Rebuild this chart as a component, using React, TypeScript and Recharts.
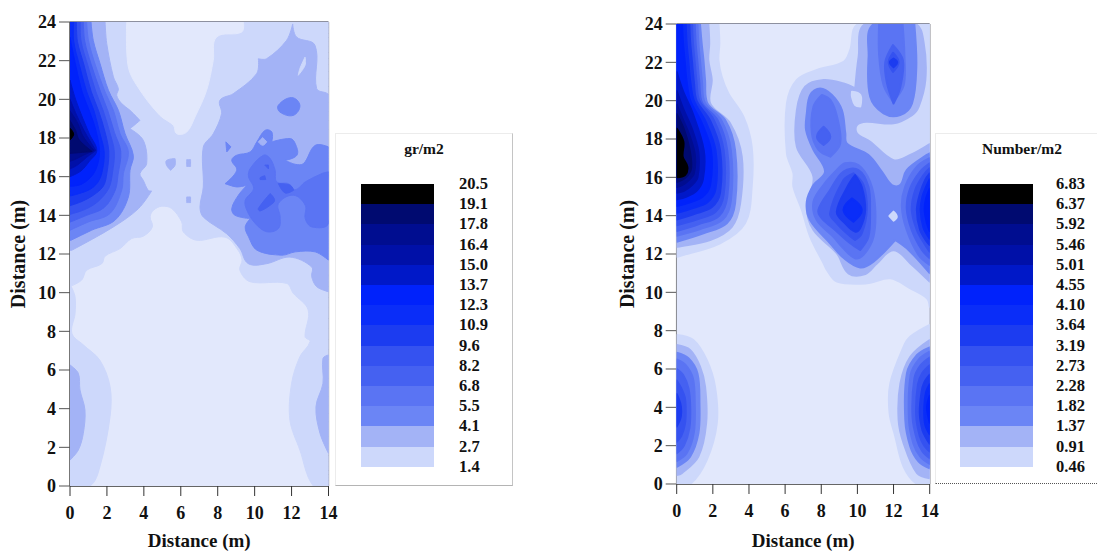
import { ScatterChart, Scatter, XAxis, YAxis, ReferenceLine } from "recharts";

type Pt = [number, number];
type Contour = [number, Pt[]]; // band index (into bandColors, -1 = below lowest level), outline in metres

const xTicks = [0, 2, 4, 6, 8, 10, 12, 14];
const yTicks = [0, 2, 4, 6, 8, 10, 12, 14, 16, 18, 20, 22, 24];

const biomassLevels = ["20.5", "19.1", "17.8", "16.4", "15.0", "13.7", "12.3", "10.9", "9.6", "8.2", "6.8", "5.5", "4.1", "2.7", "1.4"];
const densityLevels = ["6.83", "6.37", "5.92", "5.46", "5.01", "4.55", "4.10", "3.64", "3.19", "2.73", "2.28", "1.82", "1.37", "0.91", "0.46"];

// lowest band first
const bandColors = [
  "#cdd8fb", "#a3b3f6", "#6b85f5", "#5a74f3", "#4561f1", "#3552f0", "#1c3cf0",
  "#0a2df8", "#0022fb", "#0018c8", "#0010a8", "#000d90", "#000a70", "#000000",
];
const baseColor = "#e2e8fc";

const biomassContours: Contour[] = [
  [-1, [[0, 0], [14, 0], [14, 24], [0, 24]]],
  [0, [[0, 24], [14, 24], [14, 0], [13.18, 0], [12.45, 1.86], [11.91, 3.41], [12, 5.31], [12.45, 6.69], [13, 7.47], [12.73, 7.72], [12.9, 9.1], [12.09, 9.97], [11.73, 10.48], [9.75, 10.57], [9.2, 11.17], [9.32, 11.68], [9.1, 12.2], [8.4, 12.87], [6.87, 12.71], [6.14, 13.14], [6.05, 13.66], [5.51, 14.35], [4.97, 14.47], [4.52, 14.26], [4.34, 13.92], [4.46, 13.4], [3.97, 12.92], [3.34, 12.8], [2.71, 12.28], [1.9, 11.89], [1.72, 11.5], [0.9, 11.16], [0.63, 10.65], [0.05, 10.34], [0.27, 9.8], [0.27, 8.9], [0.1, 7.9], [0.72, 7.3], [1.62, 6.5], [2.17, 5.14], [2.17, 3.6], [1.62, 1], [1.08, 0], [0, 0]]],
  [-1, [[3.07, 24], [3.16, 21.67], [3.79, 20.47], [4.87, 19.17], [5.6, 18.66], [5.78, 18.22], [6.32, 18.31], [6.77, 19.09], [7.4, 20.47], [7.76, 22.02], [7.94, 23.22], [9.3, 23.48], [9.39, 24]]],
  [1, [[1.9, 24], [1.99, 22.88], [2.35, 21.16], [2.62, 20.55], [2.53, 20.2], [2.8, 19.78], [3.25, 19.43], [3.79, 18.91], [3.25, 18.48], [3.97, 17.88], [4.15, 16.67], [3.79, 16.16], [3.97, 15.81], [4.24, 15.29], [4.42, 15.26], [3.7, 14.34], [2.35, 13.4], [0.09, 12.19], [0, 12.19], [0, 24]]],
  [1, [[0, 6.26], [0.45, 5.83], [0.54, 4.97], [0.81, 3.93], [0.72, 2.72], [0.45, 1.86], [0, 1.34]]],
  [1, [[14, 6.78], [13.7, 6.6], [13.7, 5.31], [13.32, 4.1], [13.54, 2.72], [14, 1.69]]],
  [1, [[12.06, 23.9], [12.27, 23.22], [13.27, 22.79], [13.36, 20.55], [14, 20.2], [14, 10.05], [13.36, 10.31], [13.09, 10.83], [13.09, 11.33], [11.91, 11.84], [10.65, 11.5], [9.66, 11.5], [9.2, 12.28], [8.48, 13.05], [7.22, 13.91], [7.04, 14.43], [7.22, 15.47], [7.22, 17.53], [7.76, 18.22], [8.21, 19.26], [8.12, 19.95], [8.84, 20.29], [10.11, 21.33], [10.2, 22.1], [10.65, 22.1], [11.73, 23.05]]],
  [0, [[12.73, 22.19], [12.73, 21.76], [12.36, 21.24], [12.45, 21.59]]],
  [1, [[5.23, 16.84], [5.69, 16.93], [5.69, 16.59], [5.45, 16.33], [5.23, 16.59]]],
  [1, [[6.32, 16.88], [6.53, 16.88], [6.53, 16.53], [6.32, 16.53]]],
  [1, [[6.32, 14.95], [6.53, 14.95], [6.53, 14.66], [6.32, 14.66]]],
  // left blob
  [2, [[1.14, 24], [1.26, 23.05], [1.63, 21.84], [2.08, 20.47], [2.62, 19.43], [2.98, 18.23], [3.43, 17.1], [3.25, 16.33], [3.16, 14.95], [2.44, 13.75], [1.17, 13.23], [0.05, 12.71], [0, 12.71], [0, 24]]],
  [3, [[0.9, 24], [1, 23.05], [1.35, 21.84], [1.9, 20.38], [2.35, 19.43], [2.71, 18.23], [3.16, 17.28], [2.89, 16.16], [2.8, 15.3], [2.17, 14.1], [1, 13.66], [0, 13.23], [0, 24]]],
  [4, [[0.72, 24], [0.8, 23], [1.15, 21.8], [1.65, 20.4], [2.05, 19.4], [2.4, 18.3], [2.75, 17.3], [2.6, 16.1], [2.45, 15.3], [1.85, 14.4], [0.9, 14], [0, 13.65], [0, 24]]],
  [5, [[0.55, 24], [0.6, 23], [0.95, 21.8], [1.4, 20.4], [1.8, 19.4], [2.15, 18.3], [2.4, 17.3], [2.3, 16.2], [2.1, 15.4], [1.5, 14.7], [0.8, 14.3], [0, 14.05], [0, 24]]],
  [6, [[0.35, 24], [0.4, 23], [0.75, 21.8], [1.15, 20.4], [1.55, 19.4], [1.9, 18.3], [2.1, 17.3], [2, 16.2], [1.8, 15.5], [1.2, 15], [0.6, 14.7], [0, 14.5], [0, 24]]],
  [7, [[0.2, 24], [0.2, 23], [0.5, 21.8], [0.9, 20.4], [1.3, 19.4], [1.6, 18.3], [1.85, 17.3], [1.75, 16.3], [1.5, 15.7], [1, 15.3], [0, 15], [0, 24]]],
  [8, [[0, 23.2], [0.3, 21.8], [0.65, 20.4], [1.05, 19.4], [1.4, 18.4], [1.6, 17.3], [1.45, 16.5], [1.15, 16], [0.6, 15.6], [0, 15.5]]],
  [9, [[0, 21], [0.3, 20], [0.7, 19], [1.05, 18.2], [1.45, 17.35], [1.05, 16.8], [0.6, 16.3], [0, 16]]],
  [10, [[0, 20], [0.35, 19.2], [0.75, 18.4], [1.4, 17.35], [0.9, 17], [0.4, 16.6], [0, 16.4]]],
  [11, [[0, 19.4], [0.4, 18.8], [0.7, 18.1], [1.3, 17.35], [0.7, 17.1], [0.3, 16.9], [0, 16.8]]],
  [12, [[0, 18.9], [0.3, 18.4], [0.5, 17.9], [1.2, 17.3], [0.6, 17.25], [0, 17.2]]],
  [13, [[0, 18.5], [0.2, 18.2], [0, 17.9]]],
  // right patches
  [2, [[10.57, 18.4], [10.93, 18.31], [10.93, 17.8], [11.93, 17.97], [12.2, 17.71], [12.29, 17.11], [11.65, 16.85], [12.2, 16.64], [12.65, 16.68], [13.28, 17.62], [14, 17.54], [14, 11.68], [13.28, 12.11], [12.2, 12.11], [11.47, 11.94], [10.12, 12.2], [9.67, 12.89], [9.49, 13.4], [9.76, 13.83], [8.94, 14], [8.76, 14.35], [9.12, 15.04], [9.58, 15.56], [9.03, 15.47], [8.4, 15.64], [9.03, 16.33], [8.76, 16.85], [9.03, 17.11], [9.76, 17.28], [10.12, 17.8]]],
  [1, [[10.2, 17.8], [10.44, 18.02], [10.66, 17.8], [10.44, 17.62]]],
  [2, [[8.44, 17.8], [8.72, 17.54], [8.49, 17.28]]],
  [2, [[11.28, 19.69], [12, 20.09], [12.45, 19.69], [12.09, 19.17], [11.37, 19.34]]],
  [3, [[10.48, 17.11], [10.84, 16.94], [11.11, 16.33], [11.2, 15.73], [11.83, 15.64], [12.2, 15.33], [12.74, 15.73], [13.64, 16.16], [14, 16.25], [14, 13.58], [13.1, 13.4], [12.74, 13.83], [12.74, 14.52], [12.1, 15.04], [11.29, 14.61], [11.38, 13.92], [11.29, 13.32], [10.66, 13.15], [10.03, 13.58], [9.58, 14.26], [9.49, 14.78], [9.94, 15.38], [9.67, 15.99], [9.76, 16.42]]],
  [4, [[11.29, 15.64], [11.93, 15.56], [12.11, 15.3], [11.65, 15.16]]],
  [4, [[10.2, 14.35], [10.84, 15.13], [11.08, 14.78], [10.84, 14.52], [10.3, 14.23]]],
  [4, [[10.3, 15.95], [10.55, 16.05], [10.6, 15.85], [10.3, 15.85]]],
  [4, [[10.55, 16.6], [10.75, 16.6], [10.75, 16.4]]],
];

const densityContours: Contour[] = [
  [-1, [[0, 0], [14, 0], [14, 24], [0, 24]]],
  // top-left blob
  [0, [[2.31, 24], [2.36, 23], [2.31, 22.12], [2.49, 21.25], [2.86, 20.38], [3.69, 19.16], [4.15, 17.6], [4.15, 15.5], [3.78, 13.6], [2.4, 12.56], [0.04, 11.86], [0, 11.86], [0, 24]]],
  [1, [[1.75, 24], [1.8, 23], [1.75, 22.12], [1.94, 21.08], [1.85, 19.86], [2.95, 18.82], [3.6, 17.08], [3.51, 14.64], [3.05, 13.42], [1.85, 12.73], [0.04, 12.38], [0, 12.38], [0, 24]]],
  [2, [[1.29, 24], [1.38, 23], [1.48, 22.12], [1.57, 21.08], [1.7, 19.86], [2.68, 18.99], [3.23, 17.42], [3.23, 14.64], [2.77, 13.6], [1.48, 13.08], [0, 12.64], [0, 24]]],
  [3, [[1.15, 24], [1.2, 23], [1.3, 22], [1.4, 21], [1.55, 19.9], [2.45, 19], [3, 17.4], [3, 14.8], [2.55, 13.8], [1.3, 13.3], [0, 12.95], [0, 24]]],
  [4, [[1, 24], [1.05, 23], [1.15, 22], [1.25, 21], [1.4, 19.9], [2.25, 19], [2.8, 17.4], [2.8, 15], [2.35, 14], [1.2, 13.55], [0, 13.2], [0, 24]]],
  [5, [[0.85, 24], [0.9, 23], [1, 22], [1.1, 21], [1.25, 20], [2.05, 19], [2.6, 17.4], [2.6, 15.1], [2.15, 14.2], [1.1, 13.8], [0, 13.5], [0, 24]]],
  [6, [[0.7, 24], [0.75, 23], [0.85, 22], [0.95, 21], [1.1, 20], [1.85, 18.95], [2.4, 17.4], [2.4, 15.2], [1.95, 14.45], [1, 14.1], [0, 13.8], [0, 24]]],
  [7, [[0.5, 24], [0.55, 23], [0.65, 22], [0.75, 21], [0.95, 20], [1.6, 18.9], [2.15, 17.4], [2.15, 15.4], [1.7, 14.7], [0.9, 14.4], [0, 14.15], [0, 24]]],
  [8, [[0.3, 24], [0.35, 23], [0.45, 22], [0.55, 21], [0.75, 20], [1.35, 18.9], [1.9, 17.4], [1.85, 15.6], [1.45, 15], [0.75, 14.7], [0, 14.5], [0, 24]]],
  [9, [[0, 21.5], [0.35, 20.5], [0.9, 19.3], [1.5, 17.4], [1.45, 15.9], [1.1, 15.3], [0.55, 15], [0, 14.85]]],
  [10, [[0, 20.5], [0.35, 19.6], [0.85, 18.5], [1.2, 17.3], [1.15, 16], [0.85, 15.6], [0.4, 15.3], [0, 15.2]]],
  [11, [[0, 19.8], [0.35, 19], [0.7, 18.2], [1, 17.2], [0.95, 16.2], [0.6, 15.8], [0.3, 15.6], [0, 15.5]]],
  [12, [[0, 19.3], [0.4, 18.5], [0.7, 17.5], [0.8, 16.5], [0.5, 16], [0, 15.75]]],
  [13, [[0, 18.55], [0.37, 17.86], [0.33, 17.08], [0.59, 16.55], [0.46, 16.12], [0, 16]]],
  // middle and right, upper part
  [0, [[10.07, 24], [9.6, 22.64], [9.24, 22.03], [7.76, 21.6], [6.65, 21.08], [6.1, 19.86], [6.1, 17.25], [6.46, 16.21], [6.46, 15.51], [6.93, 14.3], [7.39, 12.9], [8.13, 11.51], [8.31, 11.17], [8.87, 10.56], [10.53, 10.47], [11.82, 10.73], [12.93, 10.21], [13.85, 9.69], [14, 9.25], [14, 24]]],
  [1, [[10.44, 24], [10.07, 22.3], [9.88, 20.64], [9.24, 20.9], [8.13, 21.08], [7.11, 20.73], [6.65, 19.51], [6.65, 17.6], [7.57, 16.03], [7.2, 14.47], [7.57, 13.25], [8.87, 12.03], [9.51, 10.99], [10.44, 10.96], [11.08, 11.51], [12, 12.2], [12.93, 11.51], [14, 10.56], [14, 17.74], [12.93, 17.17], [12, 16.9], [10.71, 17.86], [9.97, 18.3], [9.97, 18.73], [10.5, 18.9], [12, 18.82], [13.02, 19.25], [13.39, 19.69], [13.76, 21.08], [13.67, 22.99], [13.2, 24]]],
  [0, [[9.7, 20.47], [10.16, 20.3], [10.16, 19.69], [9.88, 19.77], [9.7, 20.21]]],
  [2, [[10.9, 24], [10.62, 22.3], [10.71, 20.2], [11.45, 19.34], [12.37, 19.25], [13.02, 19.86], [13.26, 21.77], [13.15, 24]]],
  [3, [[11.2, 24], [11.2, 22.4], [11.45, 20.8], [11.97, 19.95], [12.56, 20.8], [12.6, 22.4], [12.5, 24]]],
  [4, [[11.97, 22.9], [11.54, 22], [11.64, 20.9], [12, 19.85], [12.37, 20.7], [12.52, 22.1]]],
  [5, [[11.97, 22.5], [11.73, 22], [11.97, 21.5], [12.28, 22]]],
  [6, [[12, 22.2], [11.8, 22], [12, 21.75], [12.2, 22]]],
  [2, [[7.16, 18.47], [7.2, 19.34], [7.39, 20.3], [7.94, 20.64], [8.59, 20.3], [9.14, 19.51], [9.33, 18.3], [9.41, 17.77], [10.61, 17.17], [11.35, 16.3], [11.9, 15.6], [12.37, 15.6], [12.73, 16.38], [13.84, 17.17], [14, 17.25], [14, 11], [12.83, 12.21], [12.09, 12.73], [10.89, 11.6], [10.15, 11.3], [9.23, 11.8], [8.49, 12.56], [7.38, 13.77], [7.2, 14.73], [7.57, 15.6], [8.21, 16.3], [7.57, 17.43]]],
  [0, [[11.77, 13.98], [12, 14.21], [12.18, 13.95], [12, 13.74]]],
  [3, [[7.48, 18.3], [7.57, 19.69], [8.03, 20.3], [8.5, 20.04], [8.87, 19.17], [9.05, 17.77], [8.5, 17.08], [7.85, 17.43]]],
  [4, [[7.76, 18.12], [8.13, 18.64], [8.5, 18.12], [8.13, 17.69]]],
  [3, [[7.57, 14.73], [8.12, 15.6], [8.86, 16.38], [9.32, 16.73], [10.06, 16.64], [10.7, 15.77], [10.98, 14.47], [10.89, 12.9], [10.34, 11.95], [9.87, 11.78], [9.14, 12.38], [8.67, 12.9], [7.75, 13.77]]],
  [4, [[7.84, 14.3], [8.49, 15.34], [9.23, 16.3], [10.06, 16.38], [10.61, 15.51], [10.7, 14.3], [10.61, 12.9], [10.15, 12.21], [9.6, 12.56], [8.77, 13.25], [8.03, 13.86]]],
  [5, [[8.49, 14.12], [9.23, 15.86], [9.78, 16.21], [10.34, 15.6], [10.52, 14.3], [10.24, 13.08], [9.87, 12.73], [9.41, 13.08], [8.86, 13.6]]],
  [6, [[8.86, 14.2], [9.5, 15.6], [9.87, 16.12], [10.24, 15.5], [10.43, 14.3], [10.15, 13.34], [9.87, 13.17], [9.32, 13.6]]],
  [7, [[9.69, 14.9], [9.23, 14.3], [9.78, 13.69], [10.24, 14.3]]],
  [3, [[14, 17], [13.29, 16.56], [12.64, 15.51], [12.46, 14.47], [12.73, 13.25], [13.38, 11.95], [14, 11.43]]],
  [4, [[14, 16.73], [13.47, 16.3], [12.92, 15.43], [12.73, 14.38], [13.01, 13.25], [13.57, 12.21], [14, 11.78]]],
  [5, [[14, 16.47], [13.66, 16.12], [13.2, 15.34], [13.01, 14.3], [13.29, 13.25], [13.75, 12.47], [14, 12.12]]],
  [6, [[14, 16.2], [13.75, 15.86], [13.47, 15.17], [13.29, 14.3], [13.47, 13.25], [13.84, 12.64], [14, 12.47]]],
  [7, [[14, 15.9], [13.8, 15.5], [13.6, 15], [13.5, 14.3], [13.65, 13.4], [14, 12.8]]],
  [8, [[14, 15.4], [13.8, 14.9], [13.72, 14.3], [13.85, 13.6], [14, 13.2]]],
  // bottom left
  [0, [[0, 7.77], [0.92, 7.51], [1.66, 6.47], [2.12, 5.08], [2.22, 3.17], [1.66, 1.25], [0.74, 0], [0, 0]]],
  [1, [[0, 7.25], [0.74, 6.99], [1.29, 6.12], [1.57, 5.08], [1.63, 3.17], [1.2, 1.43], [0.28, 0.56], [0, 0.47]]],
  [2, [[0, 6.85], [0.65, 6.56], [1.15, 5.77], [1.26, 4.21], [1.2, 2.64], [0.74, 1.43], [0, 0.9]]],
  [3, [[0, 6.5], [0.5, 6.2], [0.9, 5.5], [1, 4.2], [0.95, 2.7], [0.55, 1.6], [0, 1.2]]],
  [4, [[0, 6], [0.35, 5.7], [0.65, 5], [0.75, 4], [0.7, 2.9], [0.4, 2], [0, 1.6]]],
  [5, [[0, 5.4], [0.25, 5], [0.45, 4.5], [0.5, 3.8], [0.45, 3.1], [0.25, 2.5], [0, 2.2]]],
  [6, [[0, 4.7], [0.2, 4.2], [0.25, 3.8], [0.2, 3.4], [0, 3]]],
  // bottom right
  [0, [[14, 8.3], [12.93, 7.69], [12.56, 7.17], [11.82, 5.25], [11.78, 3.69], [12.1, 2.47], [12.56, 0.9], [13.3, 0], [14, 0]]],
  [1, [[14, 7.51], [12.93, 6.64], [12.38, 5.25], [12.28, 3.34], [12.56, 2.12], [13.3, 0.56], [14, 0.3]]],
  [2, [[14, 7.13], [13.3, 6.73], [12.74, 5.77], [12.65, 3.34], [12.93, 1.95], [13.39, 1.17], [14, 0.82]]],
  [3, [[14, 6.9], [13.4, 6.5], [12.95, 5.7], [12.85, 3.4], [13.1, 2.1], [13.5, 1.4], [14, 1.05]]],
  [4, [[14, 6.6], [13.5, 6.2], [13.15, 5.5], [13.05, 3.5], [13.3, 2.3], [13.6, 1.7], [14, 1.35]]],
  [5, [[14, 6.2], [13.6, 5.8], [13.35, 5.2], [13.25, 3.6], [13.45, 2.5], [13.7, 2], [14, 1.7]]],
  [6, [[14, 5.7], [13.7, 5.3], [13.55, 4.8], [13.45, 3.7], [13.6, 2.8], [13.8, 2.4], [14, 2.1]]],
  [7, [[14, 5.2], [13.8, 4.8], [13.7, 4], [13.75, 3.1], [14, 2.6]]],
  [8, [[14, 4.6], [13.85, 4], [14, 3.2]]],
];

const SERIF = "'Liberation Serif', 'Times New Roman', serif";

// closed curve for the contours: rounds gentle bends, leaves sharp corners (plot edges, notches) alone
function smoothClosed(context: any) {
  let pts: Pt[] = [];
  const tangent = (i: number): Pt => {
    const n = pts.length;
    const [px, py] = pts[(i + n - 1) % n];
    const [x, y] = pts[i];
    const [nx, ny] = pts[(i + 1) % n];
    const a = Math.hypot(x - px, y - py) || 1;
    const b = Math.hypot(nx - x, ny - y) || 1;
    const dot = ((x - px) * (nx - x) + (y - py) * (ny - y)) / (a * b);
    if (dot < 0.15) return [0, 0];
    const len = Math.hypot(nx - px, ny - py) || 1;
    return [(nx - px) / len, (ny - py) / len];
  };
  return {
    areaStart() {},
    areaEnd() {},
    lineStart() {
      pts = [];
    },
    point(x: number, y: number) {
      pts.push([+x, +y]);
    },
    lineEnd() {
      const n = pts.length;
      context.moveTo(pts[0][0], pts[0][1]);
      for (let i = 0; i < n; i++) {
        const j = (i + 1) % n;
        const d = Math.hypot(pts[j][0] - pts[i][0], pts[j][1] - pts[i][1]) / 3;
        const t0 = tangent(i);
        const t1 = tangent(j);
        context.bezierCurveTo(
          pts[i][0] + t0[0] * d, pts[i][1] + t0[1] * d,
          pts[j][0] - t1[0] * d, pts[j][1] - t1[1] * d,
          pts[j][0], pts[j][1]
        );
      }
      context.closePath();
    },
  };
}

function ContourPanel({ contours, left, top, plotWidth, plotHeight, yAxisWidth, rounding, yLabelOffset }: {
  contours: Contour[];
  left: number;
  top: number;
  plotWidth: number;
  plotHeight: number;
  yAxisWidth: number;
  rounding: number;
  yLabelOffset: number;
}) {
  const rightPad = 22;
  const xAxisHeight = 551 - top - plotHeight;
  const tickStyle = { fontFamily: SERIF, fontWeight: 700, fontSize: 18, fill: "#111" };
  const labelStyle = { fontFamily: SERIF, fontWeight: 700, fill: "#111" };
  return (
    <div style={{ position: "absolute", left, top: 0 }}>
      <ScatterChart
        width={yAxisWidth + plotWidth + rightPad}
        height={551}
        margin={{ top, right: rightPad, bottom: 0, left: 0 }}
      >
        <XAxis
          type="number"
          dataKey="x"
          domain={[0, 14]}
          ticks={xTicks}
          interval={0}
          allowDataOverflow
          stroke="#333"
          tickSize={10}
          tickMargin={10}
          tick={tickStyle}
          height={xAxisHeight}
          label={{ value: "Distance (m)", position: "insideBottom", offset: 4, style: { ...labelStyle, fontSize: 19 } }}
        />
        <YAxis
          type="number"
          dataKey="y"
          domain={[0, 24]}
          ticks={yTicks}
          interval={0}
          allowDataOverflow
          stroke="#555"
          tickSize={11}
          tickMargin={3}
          tick={tickStyle}
          width={yAxisWidth}
          label={{ value: "Distance (m)", angle: -90, position: "insideLeft", offset: yLabelOffset, style: { ...labelStyle, fontSize: 20, textAnchor: "middle" } }}
        />
        {contours.map(([band, outline], i) => {
          const color = band < 0 ? baseColor : bandColors[band];
          return (
            <Scatter
              key={i}
              data={outline.map(([x, y]) => ({ x, y }))}
              shape={() => null}
              line={{ fill: color, stroke: color, strokeWidth: rounding, strokeLinejoin: "round" }}
              lineJointType={smoothClosed as any}
              isAnimationActive={false}
            />
          );
        })}
        <ReferenceLine x={14} stroke="#2a2a3a" strokeWidth={1.2} />
        <ReferenceLine y={24} stroke="#1d2240" strokeWidth={1.2} />
        <ReferenceLine x={0} stroke="#777" strokeWidth={1.5} />
        <ReferenceLine y={0} stroke="#333" strokeWidth={1.2} />
      </ScatterChart>
    </div>
  );
}

function LevelLegend({ title, levels, boxLeft, boxWidth, boxHeight, swatchLeft, labelLeft, titleCenter, closed }: {
  title: string;
  levels: string[];
  boxLeft: number;
  boxWidth: number;
  boxHeight: number;
  swatchLeft: number;
  labelLeft: number;
  titleCenter: number;
  closed: boolean;
}) {
  const step = 20.2;
  const swatchTop = 184;
  const text = { position: "absolute" as const, fontFamily: SERIF, fontWeight: 700, color: "#111" };
  return (
    <>
      <div
        style={{
          position: "absolute",
          left: boxLeft,
          top: 133,
          width: boxWidth,
          height: boxHeight,
          boxSizing: "border-box",
          borderTop: "1px solid #ececec",
          borderLeft: "1px solid #ececec",
          borderRight: closed ? "1px solid #c4c4c4" : "none",
          borderBottom: closed ? "1px solid #b4b4b4" : "1px dotted #555",
        }}
      />
      <div style={{ ...text, left: titleCenter - 60, width: 120, textAlign: "center", top: 139, fontSize: 15.5, lineHeight: "20px" }}>
        {title}
      </div>
      {[...bandColors].reverse().map((color, i) => (
        <div
          key={i}
          style={{ position: "absolute", left: swatchLeft, top: swatchTop + i * step, width: 73, height: step + 0.5, background: color }}
        />
      ))}
      {levels.map((label, i) => (
        <div key={label} style={{ ...text, left: labelLeft, top: swatchTop + i * step - 10, fontSize: 16.5, lineHeight: "20px" }}>
          {label}
        </div>
      ))}
    </>
  );
}

export default function App() {
  return (
    <div style={{ position: "absolute", left: 0, top: 0, width: 1097, height: 551, background: "#fff", overflow: "hidden" }}>
      <LevelLegend title="gr/m2" levels={biomassLevels} boxLeft={335} boxWidth={178} boxHeight={353} swatchLeft={361} labelLeft={459} titleCenter={424} closed />
      <LevelLegend title="Number/m2" levels={densityLevels} boxLeft={935} boxWidth={162} boxHeight={351} swatchLeft={959.5} labelLeft={1056} titleCenter={1022} closed={false} />
      <ContourPanel contours={biomassContours} left={0} top={22} plotWidth={258.5} plotHeight={464} yAxisWidth={70} rounding={1} yLabelOffset={18} />
      <ContourPanel contours={densityContours} left={606} top={24} plotWidth={253} plotHeight={460} yAxisWidth={70.7} rounding={2} yLabelOffset={21} />
    </div>
  );
}
